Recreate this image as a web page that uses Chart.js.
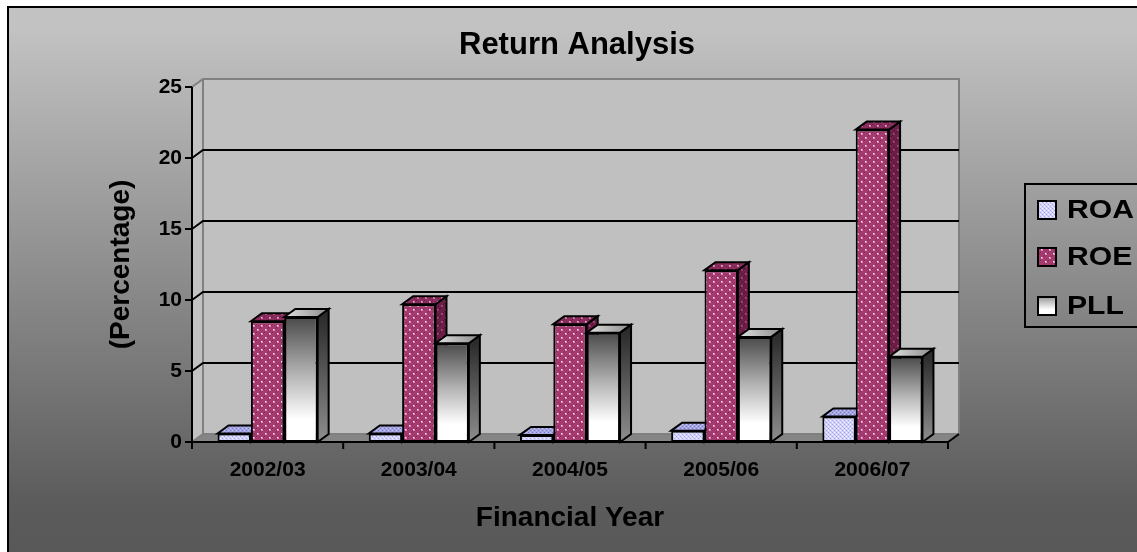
<!DOCTYPE html>
<html>
<head>
<meta charset="utf-8">
<script src="https://cdn.jsdelivr.net/npm/chart.js@4.4.1/dist/chart.umd.min.js"></script>
<style>
  html, body { margin: 0; padding: 0; background: #ffffff; }
  #wrap { width: 1137px; height: 552px; position: relative; }
</style>
</head>
<body>
<div id="wrap"><canvas id="chart"></canvas></div>
<script>
// ---- data ----
const years = ['2002/03', '2003/04', '2004/05', '2005/06', '2006/07'];
const roa = [0.6, 0.6, 0.5, 0.8, 1.8];
const roe = [8.5, 9.7, 8.3, 12.1, 22.0];
const pll = [8.8, 6.95, 7.7, 7.4, 6.0];
const seriesNames = ['ROA', 'ROE', 'PLL'];
const chartTitle = 'Return Analysis';
const yMin = 0, yMax = 25, yStep = 5;

// ---- look ----
const FONT = '"Liberation Sans", Arial, Helvetica, sans-serif';
const DX = 11, DY = -8;           // depth offset of the 3D walls and columns

function tile(w, h, paint) {
  const c = document.createElement('canvas');
  c.width = w; c.height = h;
  const g = c.getContext('2d');
  paint(g);
  return c;
}
function dot(g, x, y, col, w = 1, h = 1) { g.fillStyle = col; g.fillRect(x, y, w, h); }

const cvs = document.getElementById('chart');
const c2d = cvs.getContext('2d');

// lavender cross-hatch for ROA
const roaTile = tile(4, 4, g => {
  dot(g, 0, 0, '#d4d4fb', 4, 4);
  dot(g, 0, 0, '#a2a2e4'); dot(g, 2, 2, '#a2a2e4');
  dot(g, 2, 0, '#f2f2ff'); dot(g, 0, 2, '#f2f2ff');
  dot(g, 1, 1, '#c4c4f4'); dot(g, 3, 3, '#c4c4f4');
});
const roaTopTile = tile(4, 4, g => {
  dot(g, 0, 0, '#a6a6e2', 4, 4);
  dot(g, 0, 0, '#7676c2'); dot(g, 2, 2, '#7676c2');
  dot(g, 2, 0, '#c4c4f2'); dot(g, 0, 2, '#c4c4f2');
});
const roaSideTile = tile(4, 4, g => {
  dot(g, 0, 0, '#8a8acc', 4, 4);
  dot(g, 0, 0, '#6a6ab0'); dot(g, 2, 2, '#6a6ab0');
});
// plum with small white dots for ROE
function plumTile(base, dark, dotCol, dotCore) {
  return tile(8, 8, g => {
    dot(g, 0, 0, base, 8, 8);
    [[3,0],[6,2],[0,4],[4,7],[7,5]].forEach(p => dot(g, p[0], p[1], dark));
    dot(g, 1, 1, dotCol, 2, 2); dot(g, 1, 1, dotCore);
    dot(g, 5, 5, dotCol, 2, 2); dot(g, 5, 5, dotCore);
  });
}
const roeTile = plumTile('#a53a6e', '#8c2c5c', '#dc8cb8', '#fde8f4');
const roeTopTile = plumTile('#8a2c5c', '#6c1c46', '#c47aa4', '#e6b8d2');
const roeSideTile = plumTile('#6c1e47', '#501234', '#8e3a68', '#a85684');

const roaFront = c2d.createPattern(roaTile, 'repeat');
const roaTop = c2d.createPattern(roaTopTile, 'repeat');
const roaSide = c2d.createPattern(roaSideTile, 'repeat');
const roeFront = c2d.createPattern(roeTile, 'repeat');
const roeTop = c2d.createPattern(roeTopTile, 'repeat');
const roeSide = c2d.createPattern(roeSideTile, 'repeat');

// side and top faces per series (front faces are the library's bar elements)
const faces = [
  { side: () => roaSide, top: () => roaTop },
  { side: () => roeSide, top: () => roeTop },
  {
    side: (ctx, y, base) => {
      const g = ctx.createLinearGradient(0, y, 0, base);
      g.addColorStop(0, '#2c2c2c'); g.addColorStop(1, '#8e8e8e');
      return g;
    },
    top: (ctx, y, base, l, r) => {
      const g = ctx.createLinearGradient(l, y, r + DX, y + DY);
      g.addColorStop(0, '#e2e2e2'); g.addColorStop(1, '#8a8a8a');
      return g;
    }
  }
];

function pllFront(context) {
  const ch = context.chart;
  const ys = ch.scales && ch.scales.y;
  if (!ch.chartArea || !ys || typeof context.raw !== 'number') return '#ffffff';
  const top = ys.getPixelForValue(context.raw);
  const base = ys.getPixelForValue(0);
  const g = ch.ctx.createLinearGradient(0, top, 0, base);
  g.addColorStop(0, '#4a4a4a');
  g.addColorStop(0.45, '#b2b2b2');
  g.addColorStop(0.82, '#ffffff');
  g.addColorStop(1, '#ffffff');
  return g;
}

// background, 3D walls, floor, gridlines and axis lines
const scenePlugin = {
  id: 'scene',
  beforeDraw(chart) {
    const ctx = chart.ctx;
    const W = chart.width, H = chart.height;
    const { left, right, top, bottom } = chart.chartArea;
    const ys = chart.scales.y, xs = chart.scales.x;
    ctx.save();
    ctx.fillStyle = '#ffffff';
    ctx.fillRect(0, 0, W, H);
    const bg = ctx.createLinearGradient(0, 30, 0, H);
    bg.addColorStop(0, '#c2c2c2');
    bg.addColorStop(0.9, '#5c5c5c');
    bg.addColorStop(1, '#585858');
    ctx.fillStyle = bg;
    ctx.fillRect(8, 7, W, H);
    ctx.lineWidth = 2;
    ctx.strokeStyle = '#000000';
    ctx.strokeRect(8, 7, W + 20, H + 20);

    // back wall
    ctx.fillStyle = '#c0c0c0';
    ctx.fillRect(left + DX, top + DY, right - left, bottom - top);
    // side wall
    ctx.beginPath();
    ctx.moveTo(left, top); ctx.lineTo(left + DX, top + DY);
    ctx.lineTo(left + DX, bottom + DY); ctx.lineTo(left, bottom); ctx.closePath();
    ctx.fillStyle = '#c2c2c2'; ctx.fill();
    // floor
    ctx.beginPath();
    ctx.moveTo(left, bottom); ctx.lineTo(right, bottom);
    ctx.lineTo(right + DX, bottom + DY); ctx.lineTo(left + DX, bottom + DY); ctx.closePath();
    ctx.fillStyle = '#858585'; ctx.fill();

    // wall outlines
    ctx.strokeStyle = '#808080';
    ctx.lineWidth = 2;
    ctx.beginPath();
    ctx.moveTo(left, top); ctx.lineTo(left + DX, top + DY); ctx.lineTo(right + DX, top + DY);
    ctx.lineTo(right + DX, bottom + DY); ctx.lineTo(left + DX, bottom + DY); ctx.lineTo(left + DX, top + DY);
    ctx.moveTo(left, bottom); ctx.lineTo(left + DX, bottom + DY);
    ctx.stroke();

    // gridlines on the back wall
    ctx.strokeStyle = '#000000';
    ys.ticks.forEach(t => {
      if (t.value <= yMin || t.value >= yMax) return;
      const py = ys.getPixelForValue(t.value);
      ctx.beginPath();
      ctx.moveTo(left, py); ctx.lineTo(left + DX, py + DY); ctx.lineTo(right + DX, py + DY);
      ctx.stroke();
    });

    // y axis with tick marks
    ctx.beginPath();
    ctx.moveTo(left, top); ctx.lineTo(left, bottom);
    ys.ticks.forEach(t => {
      const py = ys.getPixelForValue(t.value);
      ctx.moveTo(left - 7, py); ctx.lineTo(left, py);
    });
    // x axis front edge, right floor edge and category tick marks
    ctx.moveTo(left, bottom); ctx.lineTo(right, bottom); ctx.lineTo(right + DX, bottom + DY);
    const n = xs.ticks.length;
    for (let i = 0; i <= n; i++) {
      const px = left + (right - left) * i / n;
      ctx.moveTo(px, bottom); ctx.lineTo(px, bottom + 7);
    }
    ctx.stroke();
    ctx.restore();
  },
  // columns drawn category by category so each front face covers its neighbour's side
  beforeDatasetsDraw(chart) {
    const ctx = chart.ctx;
    const metas = chart.data.datasets.map((d, i) => chart.getDatasetMeta(i));
    for (let j = 0; j < years.length; j++) {
      metas.forEach((meta, i) => {
        const bar = meta.data[j];
        if (!bar) return;
        const { x, y, base, width } = bar.getProps(['x', 'y', 'base', 'width'], true);
        const l = x - width / 2, r = x + width / 2;
        const f = faces[i];
        ctx.save();
        ctx.lineWidth = 2;
        ctx.lineJoin = 'miter';
        ctx.strokeStyle = '#000000';
        ctx.beginPath();
        ctx.moveTo(r, y); ctx.lineTo(r + DX, y + DY); ctx.lineTo(r + DX, base + DY); ctx.lineTo(r, base);
        ctx.closePath();
        ctx.fillStyle = f.side(ctx, y, base, l, r);
        ctx.fill(); ctx.stroke();
        ctx.beginPath();
        ctx.moveTo(l, y); ctx.lineTo(l + DX, y + DY); ctx.lineTo(r + DX, y + DY); ctx.lineTo(r, y);
        ctx.closePath();
        ctx.fillStyle = f.top(ctx, y, base, l, r);
        ctx.fill(); ctx.stroke();
        ctx.restore();
        bar.draw(ctx);
      });
    }
    return false;
  },
  // title centred over the whole chart, and the legend box at the right
  afterDraw(chart) {
    const ctx = chart.ctx;
    ctx.save();
    ctx.fillStyle = '#000000';
    ctx.font = 'bold 31px ' + FONT;
    ctx.textAlign = 'center';
    ctx.textBaseline = 'middle';
    ctx.fillText(chartTitle, 577, 45);

    const swatches = [roaFront, roeFront, null];
    ctx.lineWidth = 2;
    ctx.strokeStyle = '#000000';
    ctx.strokeRect(1025, 184, 160, 143);
    const rows = [210, 257, 306];
    chart.data.datasets.forEach((ds, i) => {
      const cy = rows[i];
      let fill = swatches[i];
      if (!fill) {
        fill = ctx.createLinearGradient(0, cy - 9, 0, cy + 9);
        fill.addColorStop(0, '#9a9a9a');
        fill.addColorStop(0.7, '#ffffff');
        fill.addColorStop(1, '#ffffff');
      }
      ctx.fillStyle = fill;
      ctx.fillRect(1038, cy - 9, 18, 18);
      ctx.strokeRect(1038, cy - 9, 18, 18);
      ctx.save();
      ctx.translate(1067, cy);
      ctx.scale(1.16, 1);
      ctx.fillStyle = '#000000';
      ctx.font = 'bold 26px ' + FONT;
      ctx.textAlign = 'left';
      ctx.textBaseline = 'middle';
      ctx.fillText(ds.label, 0, 1);
      ctx.restore();
    });
    ctx.restore();
  }
};

new Chart(cvs, {
  type: 'bar',
  data: {
    labels: years,
    datasets: [
      { label: seriesNames[0], data: roa, backgroundColor: roaFront },
      { label: seriesNames[1], data: roe, backgroundColor: roeFront },
      { label: seriesNames[2], data: pll, backgroundColor: pllFront }
    ]
  },
  options: {
    responsive: true,
    maintainAspectRatio: false,
    animation: false,
    events: [],
    devicePixelRatio: 1,
    layout: { padding: { left: 100, right: 189, top: 87, bottom: 10 } },
    datasets: {
      bar: {
        categoryPercentage: 0.662,
        barPercentage: 1.0,
        borderColor: '#000000',
        borderWidth: 2,
        borderSkipped: false
      }
    },
    plugins: {
      legend: { display: false },
      tooltip: { enabled: false },
      title: { display: false }
    },
    scales: {
      x: {
        grid: { display: false, drawTicks: false, tickLength: 0 },
        border: { display: false },
        ticks: { color: '#000000', font: { family: FONT, size: 21, weight: 'bold' }, padding: 16, maxRotation: 0 },
        title: {
          display: true, text: 'Financial Year', color: '#000000',
          font: { family: FONT, size: 28, weight: 'bold' }, padding: { top: 0, bottom: 7 }
        },
        afterFit(scale) { scale.height = 100; }
      },
      y: {
        min: yMin, max: yMax,
        grid: { display: false, drawTicks: false, tickLength: 0 },
        border: { display: false },
        ticks: { stepSize: yStep, color: '#000000', font: { family: FONT, size: 21, weight: 'bold' }, padding: 10 },
        title: {
          display: true, text: '(Percentage)', color: '#000000',
          font: { family: FONT, size: 28, weight: 'bold' }, padding: { top: 4, bottom: 0 }
        },
        afterFit(scale) { scale.width = 92; }
      }
    }
  },
  plugins: [scenePlugin]
});
</script>
</body>
</html>
